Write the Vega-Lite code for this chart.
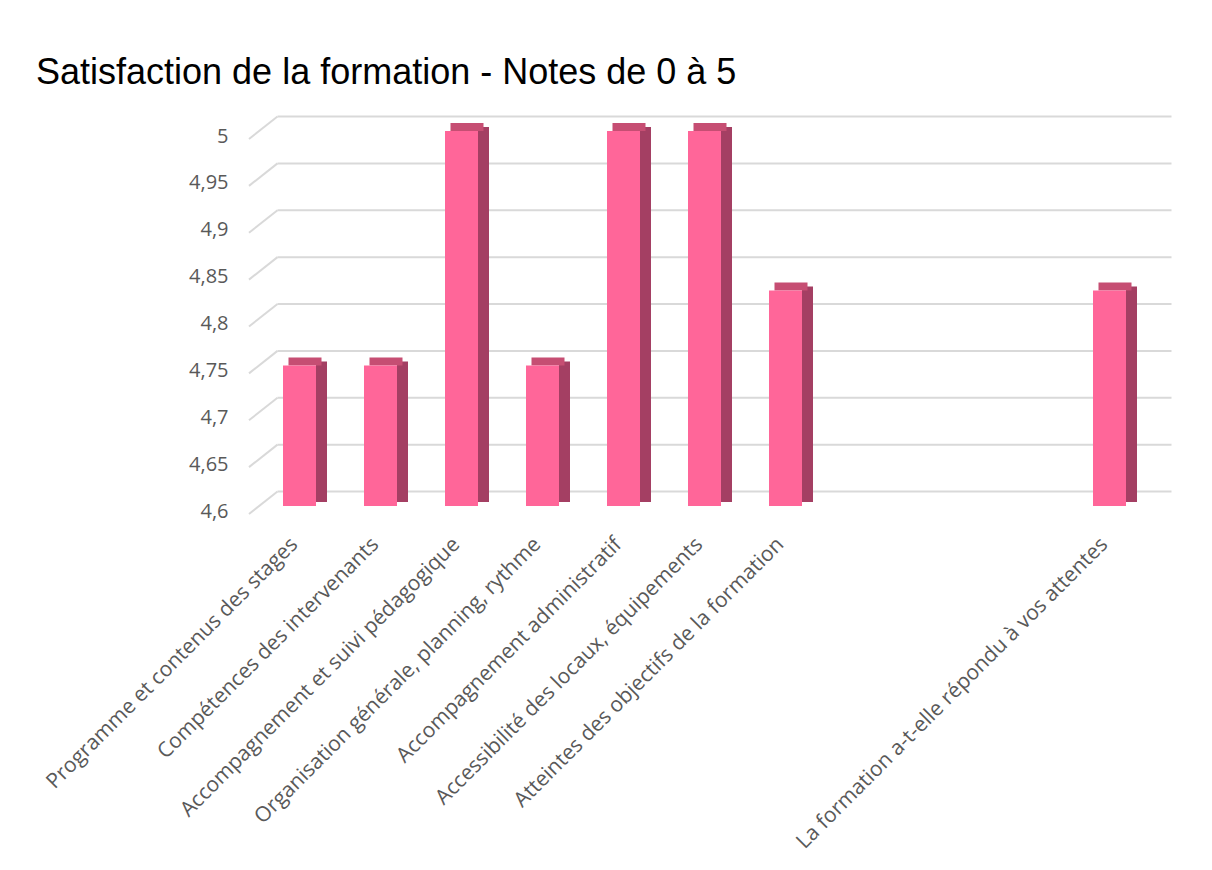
{
  "$schema": "https://vega.github.io/schema/vega-lite/v6.json",
  "autosize": {"type": "none"},
  "padding": {"left": 259, "top": 131, "right": 62, "bottom": 364},
  "width": 891,
  "height": 375,
  "background": "white",
  "title": {
    "text": "Satisfaction de la formation - Notes de 0 à 5",
    "font": "Liberation Sans",
    "fontSize": 36,
    "fontWeight": "normal",
    "color": "#000000",
    "anchor": "start",
    "frame": "group",
    "baseline": "alphabetic",
    "dx": -223,
    "offset": -4
  },
  "config": {
    "view": {"stroke": null},
    "axis": {
      "labelFont": "Open Sans",
      "labelFontSize": 20,
      "labelColor": "#595959",
      "domain": false,
      "ticks": false,
      "tickSize": 0,
      "grid": false,
      "title": null
    }
  },
  "datasets": {
    "notes": [
      {"critere": "Programme et contenus des stages", "note": 4.75},
      {"critere": "Compétences des intervenants", "note": 4.75},
      {"critere": "Accompagnement et suivi pédagogique", "note": 5},
      {"critere": "Organisation générale, planning, rythme", "note": 4.75},
      {"critere": "Accompagnement administratif", "note": 5},
      {"critere": "Accessibilité des locaux, équipements", "note": 5},
      {"critere": "Atteintes des objectifs de la formation", "note": 4.83},
      {"critere": " ", "note": null},
      {"critere": "  ", "note": null},
      {"critere": "   ", "note": null},
      {"critere": "La formation a-t-elle répondu à vos attentes", "note": 4.83}
    ],
    "grille": [
      {"g": 4.6}, {"g": 4.65}, {"g": 4.7}, {"g": 4.75}, {"g": 4.8},
      {"g": 4.85}, {"g": 4.9}, {"g": 4.95}, {"g": 5}
    ]
  },
  "layer": [
    {
      "data": {"name": "grille"},
      "mark": {"type": "rule", "color": "#D9D9D9", "strokeWidth": 2, "xOffset": -22, "x2Offset": 62, "yOffset": -14.5},
      "encoding": {
        "x": {"datum": "Programme et contenus des stages", "type": "nominal", "title": null,
          "scale": {"domain": ["Programme et contenus des stages", "Compétences des intervenants", "Accompagnement et suivi pédagogique", "Organisation générale, planning, rythme", "Accompagnement administratif", "Accessibilité des locaux, équipements", "Atteintes des objectifs de la formation", " ", "  ", "   ", "La formation a-t-elle répondu à vos attentes"], "paddingInner": 0, "paddingOuter": 0}},
        "x2": {"datum": "La formation a-t-elle répondu à vos attentes"},
        "y": {"field": "g", "type": "quantitative", "title": null, "scale": {"domain": [4.6, 5], "nice": false, "zero": false}}
      }
    },
    {
      "data": {"name": "grille"},
      "mark": {"type": "rule", "color": "#D9D9D9", "strokeWidth": 2, "xOffset": -50.5, "x2Offset": -22, "yOffset": 8, "y2Offset": -14.5},
      "encoding": {
        "x": {"datum": "Programme et contenus des stages", "type": "nominal", "title": null},
        "x2": {"datum": "Programme et contenus des stages"},
        "y": {"field": "g", "type": "quantitative", "title": null},
        "y2": {"field": "g"}
      }
    },
    {
      "data": {"name": "notes"},
      "mark": {"type": "bar", "color": "#A43F63", "width": 11, "xOffset": 22, "yOffset": -4, "y2Offset": -4},
      "encoding": {
        "x": {"field": "critere", "type": "nominal", "sort": null, "title": null},
        "y": {"field": "note", "type": "quantitative", "title": null},
        "y2": {"datum": 4.6}
      }
    },
    {
      "data": {"name": "notes"},
      "mark": {"type": "bar", "color": "#C64E73", "width": 33, "xOffset": 5.5, "yOffset": -8, "y2Offset": 0},
      "encoding": {
        "x": {"field": "critere", "type": "nominal", "sort": null, "title": null},
        "y": {"field": "note", "type": "quantitative", "title": null},
        "y2": {"field": "note"}
      }
    },
    {
      "data": {"name": "notes"},
      "mark": {"type": "bar", "color": "#FF6699", "width": 33},
      "encoding": {
        "x": {"field": "critere", "type": "nominal", "sort": null, "title": null,
          "axis": {"labelAngle": -45, "labelAlign": "right", "labelBaseline": "middle", "labelPadding": 35, "labelOffset": -5, "labelFontSize": 21, "labelLimit": 600, "orient": "bottom"}},
        "y": {"field": "note", "type": "quantitative", "title": null,
          "axis": {"values": [4.6, 4.65, 4.7, 4.75, 4.8, 4.85, 4.9, 4.95, 5], "format": ".2~f", "labelExpr": "replace(datum.label, '.', ',')", "labelPadding": 31, "labelOffset": 5}},
        "y2": {"datum": 4.6}
      }
    }
  ]
}
